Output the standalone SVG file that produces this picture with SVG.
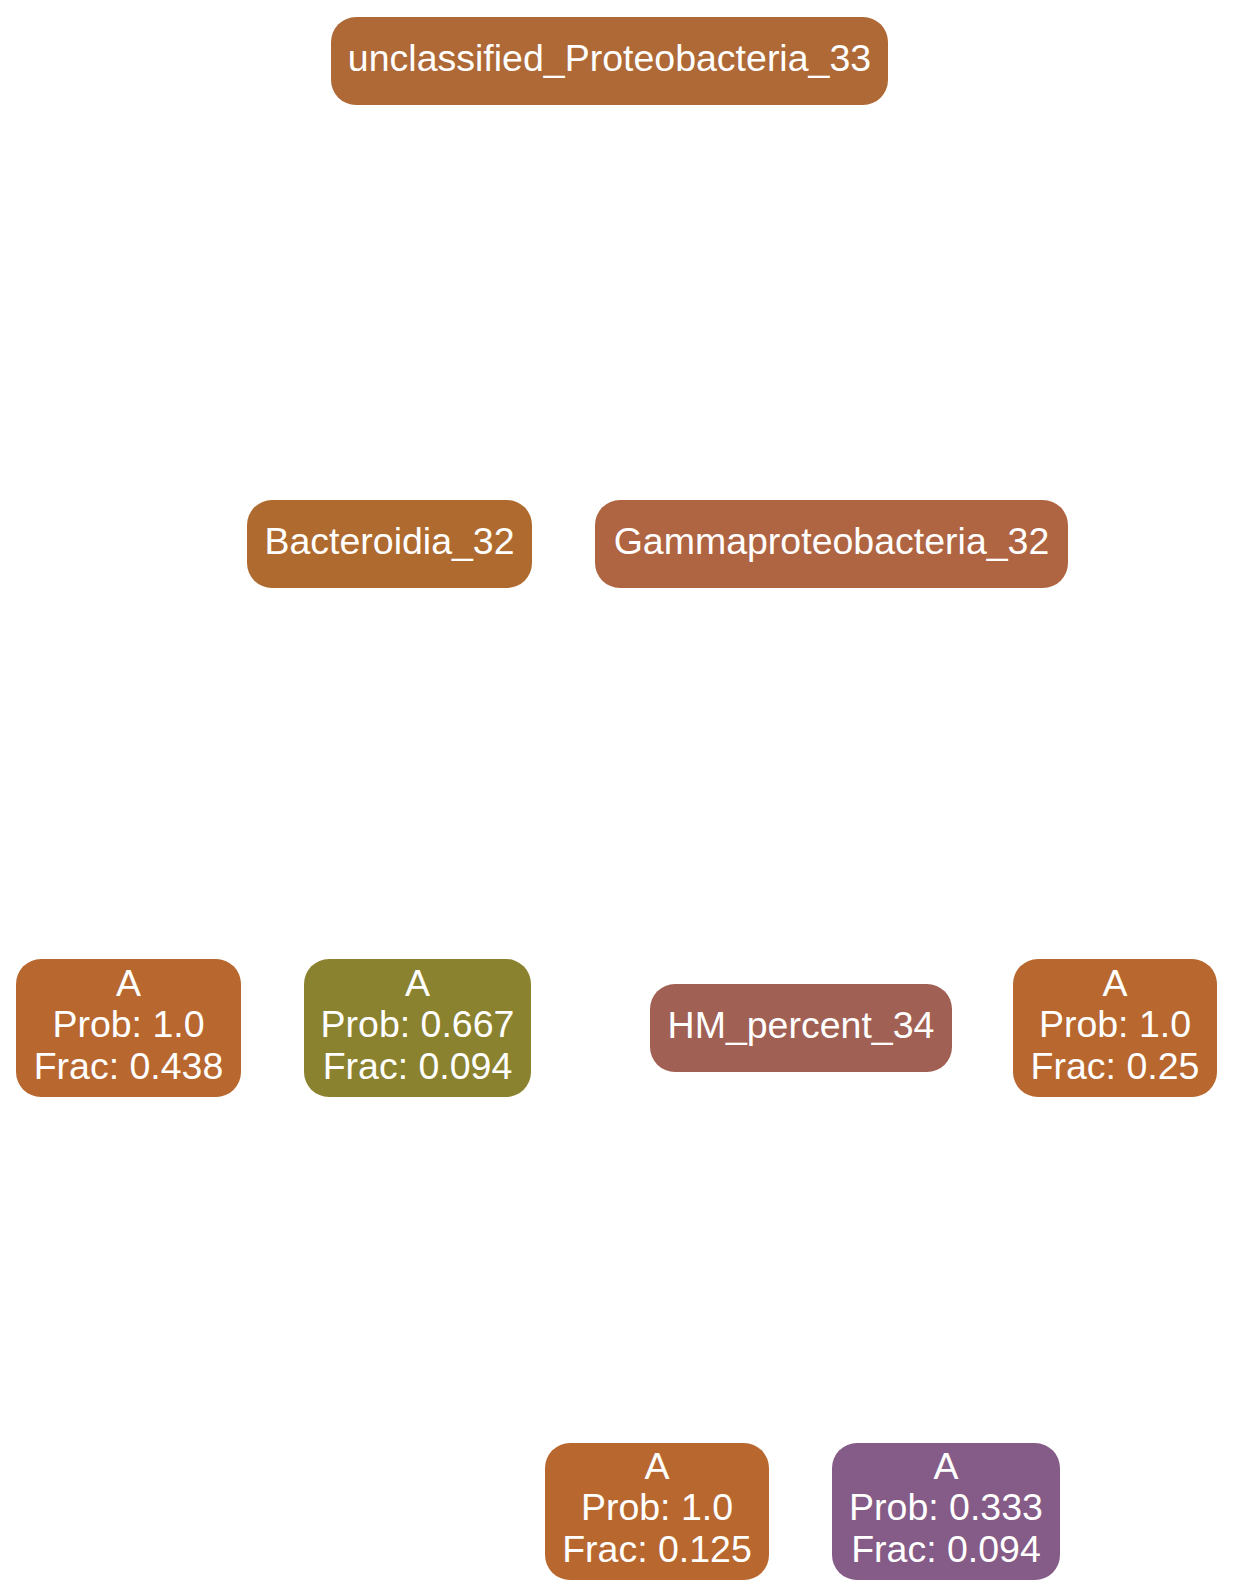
<svg xmlns="http://www.w3.org/2000/svg" width="1233" height="1596" viewBox="0 0 1233 1596">
  <style>
    .box { stroke: none; }
    .lbl { font-family: "Liberation Sans", Arial, Helvetica, sans-serif; font-size: 37.5px; fill: #ffffff; text-anchor: middle; }
  </style>
  <rect x="0" y="0" width="1233" height="1596" fill="#ffffff"/>

  <!-- connectors (none drawn) -->
  <g id="edges"></g>

  <g id="node-unclassified_Proteobacteria_33">
    <rect class="box" x="331" y="17" width="557" height="88" rx="25" ry="25" fill="#ae6936"/>
    <text class="lbl" x="609.5" y="70.5">unclassified_Proteobacteria_33</text>
  </g>

  <g id="node-Bacteroidia_32">
    <rect class="box" x="247" y="500" width="285" height="88" rx="25" ry="25" fill="#af6b2f"/>
    <text class="lbl" x="389.5" y="553.5">Bacteroidia_32</text>
  </g>

  <g id="node-Gammaproteobacteria_32">
    <rect class="box" x="595" y="500" width="473" height="88" rx="25" ry="25" fill="#af6442"/>
    <text class="lbl" x="831.5" y="553.5">Gammaproteobacteria_32</text>
  </g>

  <g id="node-leaf-0438">
    <rect class="box" x="16" y="959" width="225" height="138" rx="25" ry="25" fill="#b8672f"/>
    <text class="lbl" x="128.5" y="996">A</text>
    <text class="lbl" x="128.5" y="1037">Prob: 1.0</text>
    <text class="lbl" x="128.5" y="1078.5">Frac: 0.438</text>
  </g>

  <g id="node-leaf-0667">
    <rect class="box" x="304" y="959" width="227" height="138" rx="25" ry="25" fill="#8b822f"/>
    <text class="lbl" x="417.5" y="996">A</text>
    <text class="lbl" x="417.5" y="1037">Prob: 0.667</text>
    <text class="lbl" x="417.5" y="1078.5">Frac: 0.094</text>
  </g>

  <g id="node-HM_percent_34">
    <rect class="box" x="650" y="984" width="302" height="88" rx="25" ry="25" fill="#a16054"/>
    <text class="lbl" x="801" y="1037.5">HM_percent_34</text>
  </g>

  <g id="node-leaf-025">
    <rect class="box" x="1013" y="959" width="204" height="138" rx="25" ry="25" fill="#b8672f"/>
    <text class="lbl" x="1115" y="996">A</text>
    <text class="lbl" x="1115" y="1037">Prob: 1.0</text>
    <text class="lbl" x="1115" y="1078.5">Frac: 0.25</text>
  </g>

  <g id="node-leaf-0125">
    <rect class="box" x="545" y="1443" width="224" height="137" rx="25" ry="25" fill="#b8672f"/>
    <text class="lbl" x="657" y="1479">A</text>
    <text class="lbl" x="657" y="1520">Prob: 1.0</text>
    <text class="lbl" x="657" y="1561.5">Frac: 0.125</text>
  </g>

  <g id="node-leaf-0333">
    <rect class="box" x="832" y="1443" width="228" height="137" rx="25" ry="25" fill="#855b87"/>
    <text class="lbl" x="946" y="1479">A</text>
    <text class="lbl" x="946" y="1520">Prob: 0.333</text>
    <text class="lbl" x="946" y="1561.5">Frac: 0.094</text>
  </g>
</svg>
